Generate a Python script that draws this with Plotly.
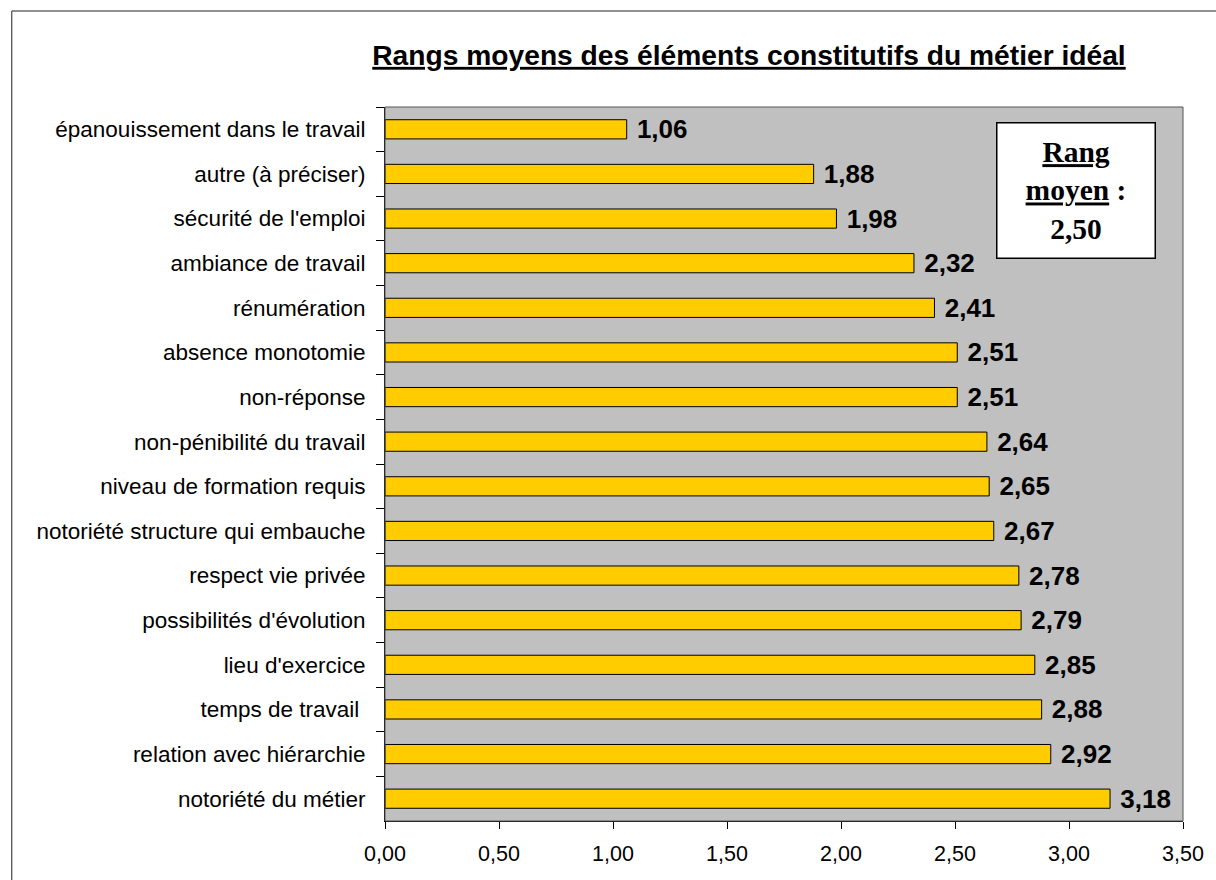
import plotly.graph_objects as go

# Elements of the ideal job, listed top to bottom, with their mean rank
categories = [
    "épanouissement dans le travail",
    "autre (à préciser)",
    "sécurité de l'emploi",
    "ambiance de travail",
    "rénumération",
    "absence monotomie",
    "non-réponse",
    "non-pénibilité du travail",
    "niveau de formation requis",
    "notoriété structure qui embauche",
    "respect vie privée",
    "possibilités d'évolution",
    "lieu d'exercice",
    "temps de travail ",
    "relation avec hiérarchie",
    "notoriété du métier",
]
mean_ranks = [1.06, 1.88, 1.98, 2.32, 2.41, 2.51, 2.51, 2.64, 2.65, 2.67,
              2.78, 2.79, 2.85, 2.88, 2.92, 3.18]
overall_mean = 2.50
x_ticks = [0, 0.5, 1.0, 1.5, 2.0, 2.5, 3.0, 3.5]

SANS = "Liberation Sans, Arial"

fig = go.Figure(
    go.Bar(
        x=mean_ranks,
        y=categories,
        orientation="h",
        width=0.43,
        marker=dict(color="#FFCC00", line=dict(color="black", width=1)),
        texttemplate="\u00a0%{x:.2f}",
        textposition="outside",
        constraintext="none",
        textfont=dict(family=SANS, size=26, color="black", weight="bold"),
        cliponaxis=False,
        hoverinfo="skip",
    )
)

fig.update_layout(
    width=1216,
    height=880,
    separators=", ",
    paper_bgcolor="white",
    plot_bgcolor="#C0C0C0",
    margin=dict(l=385, r=27, t=107, b=59),
    showlegend=False,
    font=dict(family=SANS, size=22, color="black"),
    title=dict(
        text="<b><u>Rangs moyens des éléments constitutifs du métier idéal</u></b>",
        x=(372 + 1126) / 2 / 1216,
        xanchor="center",
        y=1 - 55 / 880,
        yanchor="middle",
        font=dict(family=SANS, size=28.2, color="black"),
    ),
)

fig.update_xaxes(
    range=[0, 3.5],
    tickvals=x_ticks,
    tickformat=".2f",
    showgrid=False,
    zeroline=False,
    showline=True,
    linecolor="black",
    linewidth=1,
    ticks="outside",
    ticklen=7,
    tickcolor="black",
    tickfont=dict(size=21.5),
    ticklabelstandoff=6,
)
fig.update_yaxes(
    autorange="reversed",
    showgrid=False,
    showline=True,
    linecolor="black",
    linewidth=1,
    ticks="outside",
    tickson="boundaries",
    ticklen=8,
    tickcolor="black",
    tickfont=dict(size=22.5),
    ticklabelstandoff=14,
)

# Frame of the plotting area and the outer chart border
fig.add_shape(type="rect", xref="paper", yref="paper", x0=0, x1=1, y0=0, y1=1,
              line=dict(color="#555555", width=1), layer="above")
fig.add_shape(type="rect", xref="paper", yref="paper",
              x0=(9 - 385) / 804, x1=1.1, y0=-0.12, y1=(821 - 11) / 714,
              line=dict(color="#222222", width=1), layer="above")

# Box stating the overall mean rank
fig.add_annotation(
    x=3.03, xref="x",
    y=(821 - 190) / 714, yref="paper",
    xanchor="center", yanchor="middle",
    text=f"<b><u>Rang</u><br><u>moyen</u> :<br>{overall_mean:.2f}</b>".replace(".", ","),
    showarrow=False,
    align="center",
    font=dict(family="Liberation Serif, Times New Roman", size=29.5, color="black"),
    bgcolor="white",
    bordercolor="black",
    borderwidth=1.5,
    width=155,
    height=132,
)

fig.write_html("out.html")
